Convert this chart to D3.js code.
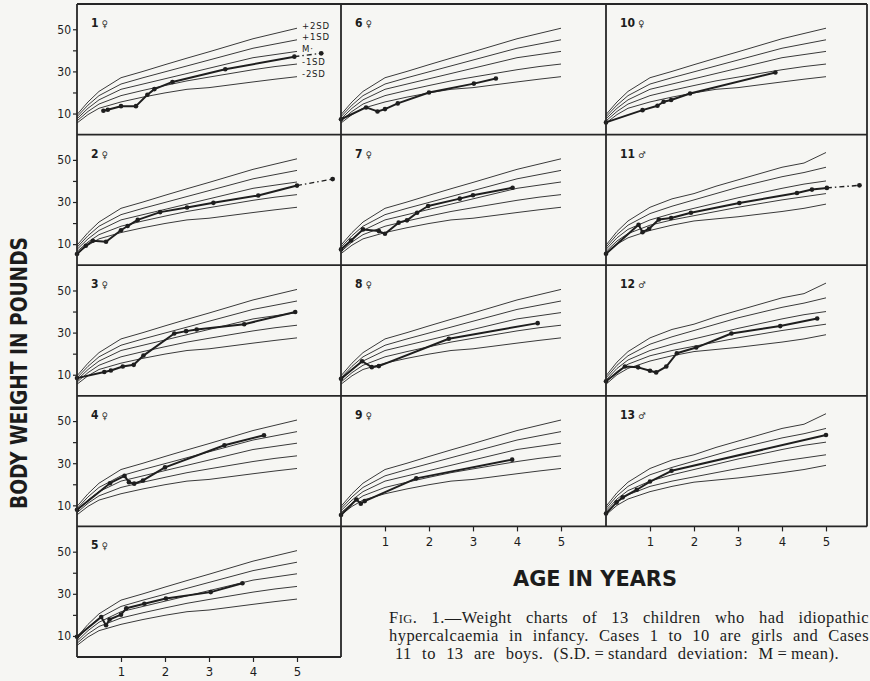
<!doctype html>
<html lang="en">
<head>
<meta charset="UTF-8" />
<title>Weight charts of 13 children</title>
<script src="https://cdn.jsdelivr.net/npm/d3@7"></script>
<style>
  body { margin: 0; background: #f6f6f3; }
  svg { display: block; }
  text { fill: #1c1c1c; }
</style>
</head>
<body>
<div id="chart"></div>
<script>
// standard weight curves (lb), at these ages (years)
var stdAges    = [0,   0.25, 0.5,  1,    1.5,  2,    2.5,  3,    4,    4.5,  5];
var girlsPlus2 = [9.5, 15.5, 20.5, 27,   30,   33.2, 36.3, 39.3, 45.5, 48,   50.5];
var girlsPlus1 = [8.5, 14,   18.5, 24,   27,   29.8, 32.6, 35.4, 41,   43,   45];
var girlsMean  = [7.5, 12.5, 16.5, 21.5, 24,   26.5, 29,   31.5, 36.5, 38,   39.5];
var girlsMin1  = [6.5, 11,   14.5, 18.5, 21,   23.3, 25.5, 27.3, 30.8, 32.3, 33.5];
var girlsMin2  = [5.5, 9.5,  12.5, 15.5, 17.8, 19.8, 21.5, 22.3, 25,   26.3, 27.5];
var boysPlus2  = [9.5, 16,   21,   27.5, 31.5, 34,   37.5, 40.5, 46.5, 48.5, 53.5];
var boysPlus1  = [8.5, 14.5, 19,   24.5, 28,   31,   34,   37,   42,   44,   46.5];
var boysMean   = [7.5, 13,   17,   21.5, 24.5, 27,   29.5, 32,   36.5, 38.5, 40];
var boysMin1   = [6.5, 11.5, 15,   19,   21.5, 23.5, 25.5, 27.5, 31,   32.5, 34];
var boysMin2   = [5.5, 10,   13,   16.5, 19,   21,   22,   23,   25.5, 27,   29];
var sdLabels   = ["+2SD", "+1SD", "M·", "-1SD", "-2SD"];

var yTicks = [10, 20, 30, 40, 50];
var yLabelTicks = [10, 30, 50];
var xTicks = [1, 2, 3, 4, 5];

// [age in years, weight in lb] for each child
var case1 = [[0.6,11.3],[0.7,11.8],[1.0,13.5],[1.34,13.5],[1.6,18.9],[1.76,21.6],[2.17,25.0],[3.37,31.0],[4.94,37.0]];
var case1Ext = [[4.94,37.0],[5.55,38.6]];
var case2 = [[0,5.3],[0.2,9.2],[0.36,11.6],[0.66,11.1],[1.0,16.6],[1.15,18.6],[1.38,21.5],[1.89,25.2],[2.5,27.4],[3.1,29.6],[4.12,33.1],[5.0,37.8]];
var case2Ext = [[5.0,37.8],[5.81,40.9]];
var case3 = [[0,8.4],[0.62,11.3],[0.77,12.0],[1.04,13.9],[1.29,14.7],[1.51,19.1],[2.21,29.6],[2.48,30.7],[2.72,31.5],[3.8,34],[4.96,39.8]];
var case4 = [[0,7.9],[0.75,20.5],[1.08,24],[1.18,21],[1.3,20.3],[1.5,21.8],[2,28],[3.35,38.5],[4.25,43.3]];
var case5 = [[0,9.6],[0.55,19.0],[0.66,15.1],[0.74,17.8],[1.0,20.1],[1.12,23.1],[1.53,25.3],[2.02,27.8],[3.04,30.8],[3.76,35.0]];
var case6 = [[0,7.3],[0.57,12.9],[0.83,11],[1.0,12.1],[1.29,14.8],[2.0,20],[3.02,24.2],[3.52,26.6]];
var case7 = [[0,7.5],[0.23,11.7],[0.5,17],[0.86,16.2],[1.0,14.9],[1.31,20.2],[1.5,21.3],[1.73,24.9],[1.98,28.1],[2.7,31.6],[3.0,33.2],[3.9,36.8]];
var case8 = [[0,8.1],[0.48,16.4],[0.7,13.6],[0.86,14.1],[2.45,27.1],[4.47,34.5]];
var case9 = [[0,5.4],[0.35,12.8],[0.45,10.8],[0.54,12.0],[1.71,22.8],[3.89,31.7]];
var case10 = [[0,5.8],[0.83,11.6],[1.17,13.7],[1.31,15.6],[1.48,16.4],[1.91,19.5],[3.85,29.5]];
var case11 = [[0,5.4],[0.74,19.2],[0.83,15.7],[0.98,17.3],[1.2,21.7],[1.48,22.4],[1.93,24.9],[3.03,29.5],[4.34,34.3],[4.68,35.9],[5.02,36.7]];
var case11Ext = [[5.02,36.7],[5.76,37.9]];
var case12 = [[0,6.9],[0.43,13.9],[0.73,13.5],[1.0,11.9],[1.14,11.1],[1.37,13.9],[1.61,20.2],[2.05,22.9],[2.85,29.6],[3.96,33.1],[4.8,36.7]];
var case13 = [[0,6.1],[0.24,11.4],[0.38,13.8],[0.7,17.4],[1.0,21.3],[1.49,26.4],[5.0,43.4]];

var caseIds  = [1, 2, 3, 4, 5, 6, 7, 8, 9, 10, 11, 12, 13];
var caseSex  = ["♀","♀","♀","♀","♀","♀","♀","♀","♀","♀","♂","♂","♂"];
var caseData = [case1, case2, case3, case4, case5, case6, case7, case8, case9, case10, case11, case12, case13];
var caseExt  = [case1Ext, case2Ext, null, null, null, null, null, null, null, null, case11Ext, null, null];

var width = 870, height = 681;
var svg = d3.select("#chart").append("svg")
    .attr("width", width)
    .attr("height", height);

// panel grid
var colX = [77, 341, 606],
    rowY = [4, 134.6, 265.2, 395.8, 526.4],
    panelW = 264, panelH = 130.6;
var rightEdge = 867;

var x = d3.scaleLinear().domain([0, 6]).range([0, panelW]);
var y = d3.scaleLinear().domain([0, 62]).range([panelH, 0]);

var line = d3.line().x(d => x(d[0])).y(d => y(d[1]));

var condensed = "'DejaVu Sans Condensed', 'DejaVu Sans', sans-serif";

function place(i) {
    if (i < 5) return { col: 0, row: i };
    if (i < 9) return { col: 1, row: i - 5 };
    return { col: 2, row: i - 9 };
}

function curves(sex) {
    var sets = sex === "♀"
        ? [girlsPlus2, girlsPlus1, girlsMean, girlsMin1, girlsMin2]
        : [boysPlus2, boysPlus1, boysMean, boysMin1, boysMin2];
    return sets.map(vals => stdAges.map((a, k) => [a, vals[k]]));
}

caseIds.forEach(function(id, i) {
    var p = place(i);
    var g = svg.append("g")
        .attr("transform", "translate(" + colX[p.col] + "," + rowY[p.row] + ")");

    // standard deviation curves
    var std = curves(caseSex[i]);
    g.selectAll(".std").data(std).enter().append("path")
        .attr("class", "std")
        .attr("d", line)
        .attr("fill", "none")
        .attr("stroke", "#3a3a3a")
        .attr("stroke-width", 1);

    if (id === 1) {
        g.selectAll(".sdlab").data(std).enter().append("text")
            .attr("class", "sdlab")
            .attr("x", x(5) + 5)
            .attr("y", d => y(d[d.length - 1][1]) + 0.5)
            .attr("font-family", condensed)
            .attr("font-size", 9.5)
            .attr("letter-spacing", 0.8)
            .text((d, k) => sdLabels[k]);
    }

    // child's weights
    g.append("path")
        .attr("d", line(caseData[i]))
        .attr("fill", "none")
        .attr("stroke", "#1e1e1e")
        .attr("stroke-width", 2)
        .attr("stroke-linejoin", "round");

    if (caseExt[i]) {
        g.append("path")
            .attr("d", line(caseExt[i]))
            .attr("fill", "none")
            .attr("stroke", "#1e1e1e")
            .attr("stroke-width", 1.4)
            .attr("stroke-dasharray", "5,3,1.5,3");
        g.append("circle")
            .attr("cx", x(caseExt[i][1][0]))
            .attr("cy", y(caseExt[i][1][1]))
            .attr("r", 2.4)
            .attr("fill", "#1e1e1e");
    }

    g.selectAll(".pt").data(caseData[i]).enter().append("circle")
        .attr("class", "pt")
        .attr("cx", d => x(d[0]))
        .attr("cy", d => y(d[1]))
        .attr("r", 2.3)
        .attr("fill", "#1e1e1e");

    // case number
    var lab = g.append("text")
        .attr("x", 14)
        .attr("y", 23)
        .attr("font-family", condensed)
        .attr("font-size", 12)
        .attr("font-weight", "bold");
    lab.append("tspan").text(id);
    lab.append("tspan").attr("dx", 3).attr("font-size", 9).text(caseSex[i]);

    // weight axis on the left column
    if (p.col === 0) {
        var ax = g.append("g")
            .call(d3.axisLeft(y).tickValues(yTicks).tickSize(4).tickPadding(2)
                .tickFormat(d => yLabelTicks.includes(d) ? d : ""));
        ax.select(".domain").remove();
        ax.selectAll("line").attr("stroke", "#222").attr("stroke-width", 1.2);
        ax.selectAll("text").attr("font-family", condensed).attr("font-size", 12).attr("fill", "#1c1c1c");
    }
});

// age axes under the bottom panels
[[0, 4], [1, 3], [2, 3]].forEach(function(cr) {
    var ax = svg.append("g")
        .attr("transform", "translate(" + colX[cr[0]] + "," + (rowY[cr[1]] + panelH) + ")")
        .call(d3.axisBottom(x).tickValues(xTicks).tickSize(5).tickPadding(5).tickFormat(d3.format("d")));
    ax.select(".domain").remove();
    ax.selectAll("line").attr("stroke", "#222").attr("stroke-width", 1.2);
    ax.selectAll("text").attr("font-family", condensed).attr("font-size", 13).attr("fill", "#1c1c1c");
});

// panel frames
var frame = svg.append("g").attr("stroke", "#262626").attr("stroke-width", 1.8);
rowY.forEach(function(ry) {
    frame.append("line").attr("x1", colX[0]).attr("x2", rightEdge).attr("y1", ry).attr("y2", ry);
});
var bottom5 = rowY[4] + panelH, bottom4 = rowY[3] + panelH;
frame.append("line").attr("x1", colX[0]).attr("x2", colX[1]).attr("y1", bottom5).attr("y2", bottom5);
frame.append("line").attr("x1", colX[0]).attr("x2", colX[0]).attr("y1", rowY[0]).attr("y2", bottom5);
frame.append("line").attr("x1", colX[1]).attr("x2", colX[1]).attr("y1", rowY[0]).attr("y2", bottom5);
frame.append("line").attr("x1", colX[2]).attr("x2", colX[2]).attr("y1", rowY[0]).attr("y2", bottom4);
frame.append("line").attr("x1", rightEdge).attr("x2", rightEdge).attr("y1", rowY[0]).attr("y2", bottom4);

// axis titles
svg.append("text")
    .attr("transform", "translate(27,373) rotate(-90)")
    .attr("text-anchor", "middle")
    .attr("font-family", condensed)
    .attr("font-weight", "bold")
    .attr("font-size", 23)
    .attr("textLength", 272)
    .attr("lengthAdjust", "spacingAndGlyphs")
    .text("BODY WEIGHT IN POUNDS");

svg.append("text")
    .attr("x", 595)
    .attr("y", 586)
    .attr("text-anchor", "middle")
    .attr("font-family", condensed)
    .attr("font-weight", "bold")
    .attr("font-size", 21)
    .attr("textLength", 164)
    .attr("lengthAdjust", "spacingAndGlyphs")
    .text("AGE IN YEARS");

// caption, justified by widening the word gaps
var serif = "'Liberation Serif', 'DejaVu Serif', serif";
function justify(t, target) {
    var node = t.node();
    var gaps = node.textContent.trim().split(/\s+/).length - 1;
    var extra = target - node.getComputedTextLength();
    if (gaps > 0 && extra > 0) t.attr("word-spacing", extra / gaps);
}

var c1 = svg.append("text")
    .attr("x", 389).attr("y", 623)
    .attr("font-family", serif).attr("font-size", 16.5).attr("letter-spacing", 0.45);
c1.append("tspan").text("F");
c1.append("tspan").attr("font-size", 12.5).text("IG");
c1.append("tspan").text(". 1.—Weight charts of 13 children who had idiopathic");
justify(c1, 480);

var c2 = svg.append("text")
    .attr("x", 389).attr("y", 641)
    .attr("font-family", serif).attr("font-size", 16.5).attr("letter-spacing", 0.45)
    .text("hypercalcaemia in infancy. Cases 1 to 10 are girls and Cases");
justify(c2, 480);

var c3 = svg.append("text")
    .attr("x", 395).attr("y", 659)
    .attr("font-family", serif).attr("font-size", 16.5).attr("letter-spacing", 0.45)
    .text("11 to 13 are boys. (S.D.\u2009=\u2009standard deviation: M\u2009=\u2009mean).");
justify(c3, 467);
</script>
</body>
</html>
